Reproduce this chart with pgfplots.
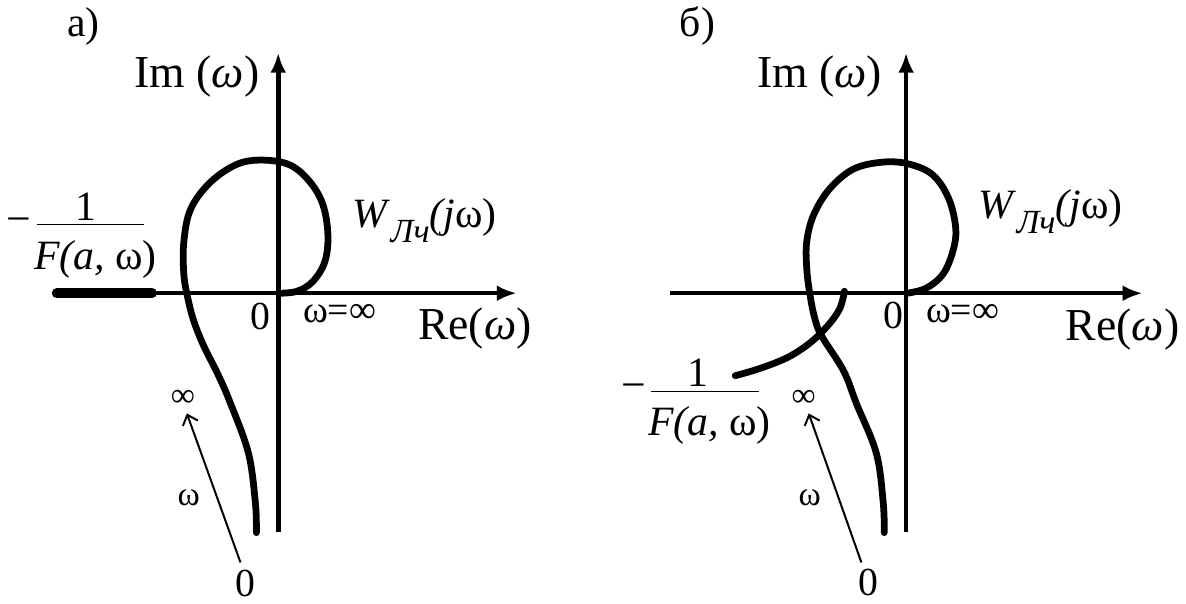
\documentclass[border=0pt]{standalone}
\usepackage{fontspec}
\setmainfont{Liberation Serif}
\usepackage{pgfplots}
\pgfplotsset{compat=1.18}
\usetikzlibrary{arrows.meta}

\newcommand{\fs}[1]{\fontsize{#1}{#1}\selectfont}

\begin{document}
\begin{tikzpicture}
\begin{axis}[
  x=0.5pt, y=0.5pt,
  xmin=0, xmax=1186, ymin=0, ymax=609,
  y dir=reverse,
  hide axis, clip=false,
  every node/.style={inner sep=0pt},
]
% ---------- panel a ----------
\addplot[line width=2.4pt, -{Latex[length=10pt,width=8pt]}] coordinates {(278,542) (278,60)};
\addplot[line width=2.2pt, -{Latex[length=10pt,width=8pt]}] coordinates {(54,302) (518,302)};
\addplot[line width=5pt, line cap=round] coordinates {(55,302) (151,302)};
\addplot[line width=3.4pt, smooth, tension=0.6, line cap=round] coordinates {
  (279,302) (297,300) (313,290) (325,270) (328,243) (323,213) (310,190)
  (290,173) (263,168) (237,172) (210,190) (190,217) (183,250) (183,283)
  (187,307) (193,330) (203,355) (217,383) (230,413) (248,463) (255,513) (256,543)
};
\addplot[line width=1pt, -{Straight Barb[length=4.5pt,width=8pt]}] coordinates {(240,573) (186,423)};
\addplot[line width=0.8pt] coordinates {(35,233) (143,233)};

\node[font=\fs{21}] at (axis cs:82,33) {а)};
\node[font=\fs{23}, anchor=east] at (axis cs:266,84) {Im (\textit{ω})};
\node[font=\fs{20}] at (axis cs:260,325) {0};
\node[font=\fs{19}, anchor=west] at (axis cs:296,323) {ω=∞};
\node[font=\fs{23}] at (axis cs:476,338) {Re(\textit{ω})};
\node[font=\fs{21}, anchor=base west] at (axis cs:346,236) {\textit{W}\raisebox{-0.35em}{\fs{17}\itshape Лч}\textit{(j}ω)};
\node[font=\fs{22}] at (axis cs:17,234) {−};
\node[font=\fs{21}] at (axis cs:84,215) {1};
\node[font=\fs{21}] at (axis cs:94,268) {\textit{F(a,} ω)};
\node[font=\fs{17}] at (axis cs:182,408) {∞};
\node[font=\fs{17}] at (axis cs:188,508) {ω};
\node[font=\fs{20}] at (axis cs:245,594) {0};

% ---------- panel b ----------
\addplot[line width=2.2pt, -{Latex[length=10pt,width=8pt]}] coordinates {(910,542) (910,60)};
\addplot[line width=2.2pt, -{Latex[length=10pt,width=8pt]}] coordinates {(672,302) (1148,302)};
\addplot[line width=3.4pt, smooth, tension=0.6, line cap=round] coordinates {
  (911,302) (930,297) (947,283) (957,260) (960,237) (953,207) (937,183)
  (913,172) (887,170) (857,177) (833,197) (817,223) (810,250) (810,277)
  (813,302) (818,327) (825,345) (847,380) (860,413) (880,463) (887,513) (888,543)
};
\addplot[line width=3.4pt, smooth, tension=0.6, line cap=round] coordinates {
  (848,300) (843,318) (830,336) (812,353) (790,367) (762,378) (738,385)
};
\addplot[line width=1pt, -{Straight Barb[length=4.5pt,width=8pt]}] coordinates {(865,573) (812,423)};
\addplot[line width=0.8pt] coordinates {(653,401) (762,401)};

\node[font=\fs{21}] at (axis cs:700,33) {б)};
\node[font=\fs{23}, anchor=east] at (axis cs:893,84) {Im (\textit{ω})};
\node[font=\fs{20}] at (axis cs:897,324) {0};
\node[font=\fs{19}, anchor=west] at (axis cs:923,323) {ω=∞};
\node[font=\fs{23}] at (axis cs:1128,339) {Re(\textit{ω})};
\node[font=\fs{21}, anchor=base west] at (axis cs:976,227) {\textit{W}\raisebox{-0.35em}{\fs{17}\itshape Лч}\textit{(j}ω)};
\node[font=\fs{22}] at (axis cs:636,401) {−};
\node[font=\fs{21}] at (axis cs:700,382) {1};
\node[font=\fs{21}] at (axis cs:712,435) {\textit{F(a,} ω)};
\node[font=\fs{17}] at (axis cs:807,408) {∞};
\node[font=\fs{17}] at (axis cs:813,508) {ω};
\node[font=\fs{20}] at (axis cs:872,593) {0};
\end{axis}
\end{tikzpicture}
\end{document}
